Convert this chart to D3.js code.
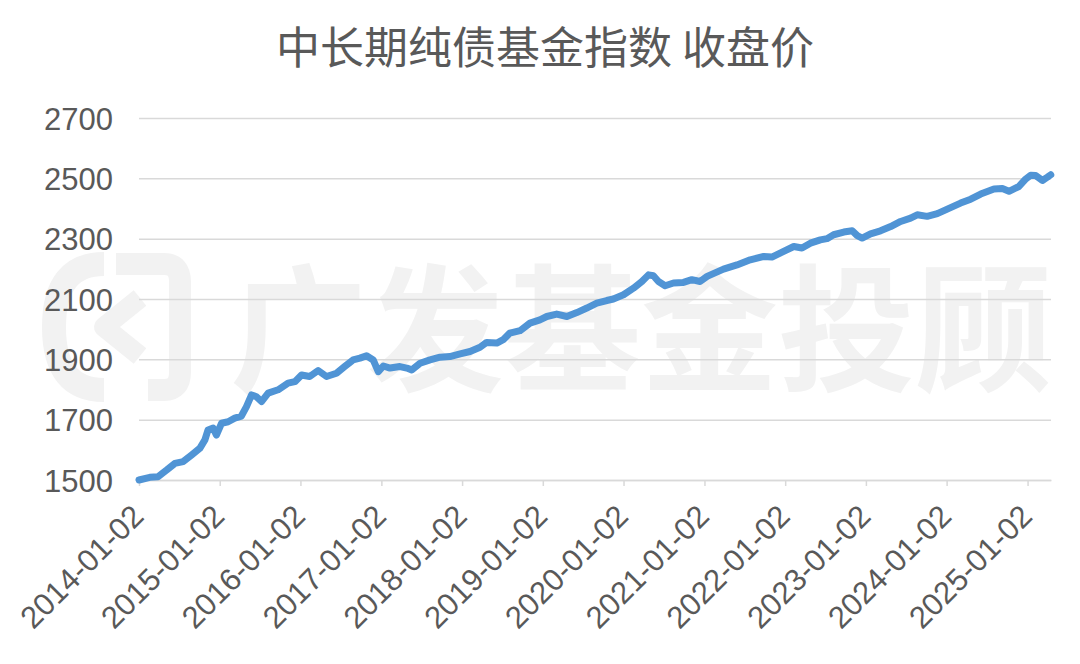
<!DOCTYPE html>
<html>
<head>
<meta charset="utf-8">
<script src="https://cdn.jsdelivr.net/npm/d3@7"></script>
<style>
  body { margin: 0; background: #fff; }
  svg { display: block; }
  .axis text { font-family: "Liberation Sans", Arial, sans-serif; fill: #595959; }
</style>
</head>
<body>
<div id="chart"></div>
<script>
// chart values
var title = "中长期纯债基金指数 收盘价";
var watermark = "广发基金投顾";

var dates = [
  "2014-01-02","2014-02-20","2014-03-29","2014-05-07","2014-06-13","2014-07-21","2014-08-28","2014-10-04",
  "2014-10-27","2014-11-10","2014-12-03","2014-12-18","2015-01-10","2015-02-09","2015-03-11","2015-04-10",
  "2015-05-03","2015-05-26","2015-06-17","2015-07-10","2015-08-09","2015-09-23","2015-11-07","2015-12-08",
  "2016-01-07","2016-02-13","2016-03-22","2016-04-29","2016-06-13","2016-07-20","2016-08-27","2016-09-27",
  "2016-10-27","2016-11-26","2016-12-19","2017-01-11","2017-02-10","2017-03-27","2017-04-27","2017-05-19",
  "2017-06-26","2017-08-10","2017-09-24","2017-11-08","2017-12-24","2018-02-07","2018-03-24","2018-04-23",
  "2018-06-08","2018-07-07","2018-08-06","2018-09-21","2018-11-05","2018-12-20","2019-01-20","2019-03-06",
  "2019-04-21","2019-06-05","2019-07-20","2019-09-03","2019-10-18","2019-11-17","2020-01-02","2020-02-16",
  "2020-03-25","2020-04-24","2020-05-16","2020-06-08","2020-07-08","2020-08-15","2020-09-29","2020-11-06",
  "2020-12-13","2021-01-14","2021-03-29","2021-05-29","2021-07-28","2021-09-27","2021-11-03","2021-12-26",
  "2022-02-10","2022-03-19","2022-04-26","2022-06-10","2022-07-10","2022-08-09","2022-09-24","2022-11-01",
  "2022-11-24","2022-12-16","2023-01-23","2023-03-09","2023-04-24","2023-06-08","2023-07-23","2023-08-22",
  "2023-10-06","2023-11-21","2024-01-05","2024-03-05","2024-04-20","2024-06-04","2024-08-03","2024-09-10",
  "2024-10-10","2024-11-24","2024-12-25","2025-01-16","2025-02-08","2025-03-10","2025-04-02","2025-04-17"
];
var closes = [
  1500,1509,1511,1533,1555,1561,1583,1605,
  1633,1666,1672,1649,1688,1693,1705,1712,
  1743,1782,1776,1760,1788,1799,1821,1826,
  1848,1843,1863,1843,1854,1876,1898,1904,
  1912,1898,1859,1878,1871,1876,1871,1865,
  1887,1898,1907,1909,1918,1926,1940,1956,
  1954,1965,1987,1995,2020,2031,2042,2050,
  2042,2055,2070,2086,2095,2100,2114,2136,
  2158,2180,2177,2158,2144,2153,2155,2164,
  2158,2175,2199,2213,2230,2241,2239,2258,
  2274,2269,2285,2296,2300,2313,2322,2326,
  2310,2302,2316,2326,2340,2357,2368,2379,
  2374,2383,2398,2418,2431,2448,2465,2466,
  2457,2473,2498,2510,2509,2493,2504,2512
];
var yTicks = [1500, 1700, 1900, 2100, 2300, 2500, 2700];
var xTickLabels = ["2014-01-02","2015-01-02","2016-01-02","2017-01-02","2018-01-02","2019-01-02",
                   "2020-01-02","2021-01-02","2022-01-02","2023-01-02","2024-01-02","2025-01-02"];

var parseDate = d3.timeParse("%Y-%m-%d");
var data = dates.map(function(d, i) { return { date: parseDate(d), close: closes[i] }; });

var W = 1080, H = 664;
var margin = {top: 118, right: 29, bottom: 184, left: 139};
var width = W - margin.left - margin.right,
    height = H - margin.top - margin.bottom;

var svg = d3.select("#chart").append("svg")
    .attr("width", W)
    .attr("height", H);

// faint watermark behind the plot
var wm = svg.append("g").attr("class", "watermark");
wm.append("path")
    .attr("d", "M104,264 Q54,264 54,327 Q54,390 104,390")
    .attr("fill", "none").attr("stroke", "#f2f2f2").attr("stroke-width", 24);
wm.append("path")
    .attr("d", "M140,298 L104,327 L140,356")
    .attr("fill", "none").attr("stroke", "#f2f2f2").attr("stroke-width", 20)
    .attr("stroke-linejoin", "round");
wm.append("path")
    .attr("d", "M116,264 L164,264 Q180,264 180,282 L180,372 Q180,390 164,390 L148,390")
    .attr("fill", "none").attr("stroke", "#f2f2f2").attr("stroke-width", 22);
wm.append("text")
    .attr("x", 230)
    .attr("y", 381)
    .attr("font-family", "'Noto Sans CJK SC', sans-serif")
    .attr("font-weight", 700)
    .attr("font-size", 137)
    .attr("fill", "#f2f2f2")
    .text(watermark);

// title
svg.append("text")
    .attr("x", 545)
    .attr("y", 64)
    .attr("text-anchor", "middle")
    .attr("font-family", "'Noto Sans CJK SC', sans-serif")
    .attr("font-size", 44)
    .attr("fill", "#595959")
    .text(title);

var main = svg.append("g")
    .attr("transform", "translate(" + margin.left + "," + margin.top + ")");

var x = d3.scaleTime()
    .domain([parseDate("2014-01-02"), parseDate("2025-04-18")])
    .range([0, width]);
var y = d3.scaleLinear()
    .domain([1500, 2700])
    .range([height, 0]);

// y axis with gridlines
var yAxis = main.append("g")
    .attr("class", "y axis")
    .call(d3.axisLeft(y).tickValues(yTicks).tickSize(-width).tickPadding(26).tickFormat(d3.format("d")));
yAxis.select(".domain").remove();
yAxis.selectAll(".tick line").attr("stroke", "#d9d9d9").attr("stroke-width", 1.5);
yAxis.selectAll(".tick text").attr("font-size", 31).attr("dy", "0.36em");

// x axis
var xAxis = main.append("g")
    .attr("class", "x axis")
    .attr("transform", "translate(0," + height + ")")
    .call(d3.axisBottom(x)
        .tickValues(xTickLabels.map(parseDate))
        .tickSizeInner(6).tickSizeOuter(0)
        .tickFormat(d3.timeFormat("%Y-%m-%d")));
xAxis.select(".domain").attr("stroke", "#d9d9d9").attr("stroke-width", 1.5);
xAxis.selectAll(".tick line").attr("stroke", "#d9d9d9").attr("stroke-width", 1.5);
xAxis.selectAll(".tick text")
    .attr("font-size", 31)
    .attr("text-anchor", "end")
    .attr("y", 0).attr("dy", 0)
    .attr("transform", "translate(6,38) rotate(-45)");

// the index line
var line = d3.line()
    .x(function(d) { return x(d.date); })
    .y(function(d) { return y(d.close); });

main.append("path")
    .datum(data)
    .attr("fill", "none")
    .attr("stroke", "#5094d5")
    .attr("stroke-width", 7)
    .attr("stroke-linejoin", "round")
    .attr("stroke-linecap", "round")
    .attr("d", line);
</script>
</body>
</html>
